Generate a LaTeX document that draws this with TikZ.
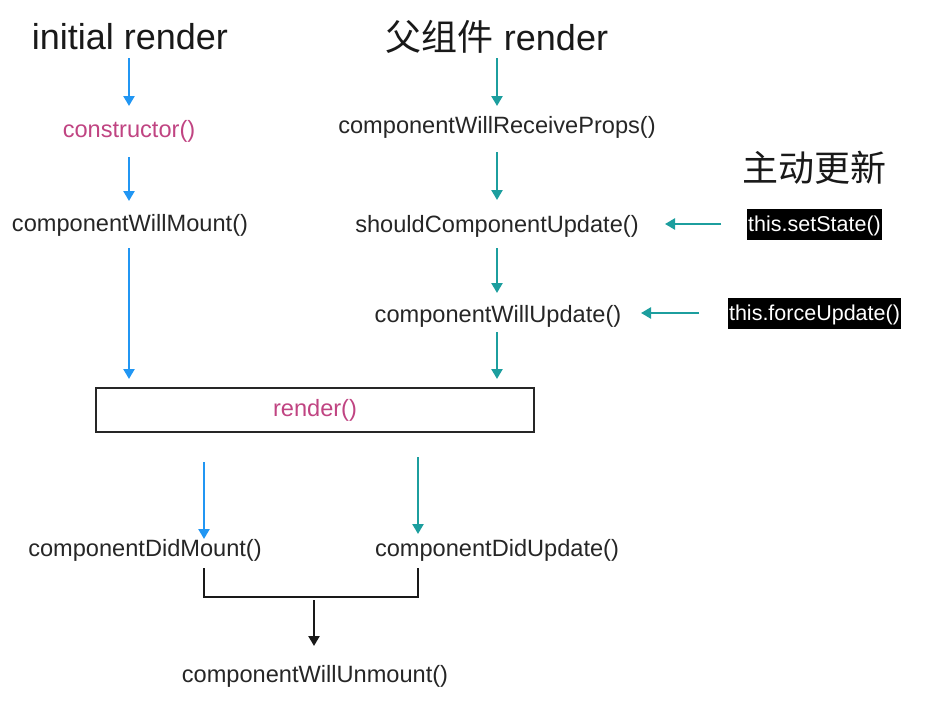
\documentclass[tikz,border=0pt]{standalone}
\usepackage{fontspec}
\setmainfont{Liberation Sans}
\newfontfamily\cjk{Noto Sans CJK SC}
\usetikzlibrary{arrows.meta}
\definecolor{cblue}{RGB}{33,150,243}
\definecolor{cteal}{RGB}{28,158,158}
\definecolor{cmag}{RGB}{192,68,130}
\tikzset{
  fn/.style={inner sep=0pt, font=\fontsize{23.6}{27}\selectfont, text=black!85},
  title/.style={inner sep=0pt, font=\fontsize{36}{42}\selectfont, text=black!90},
  tag/.style={fill=black, text=white, inner xsep=1.5pt, inner ysep=0pt, text height=18pt, text depth=4pt, minimum height=31pt, font=\fontsize{21.5}{24}\selectfont},
  arrblue/.style={draw=cblue, line width=2.4pt, -{Triangle[width=11pt,length=10pt]}},
  arrteal/.style={draw=cteal, line width=2.4pt, -{Triangle[width=11pt,length=10pt]}},
  arrblack/.style={draw=black!90, line width=2.4pt, -{Triangle[width=11pt,length=10pt]}},
}
\begin{document}
\begin{tikzpicture}[x=1pt,y=-1pt]
\useasboundingbox (0,0) rectangle (938,704);
% titles
\node[title] (ir) at (130,37) {initial render};
\node[title] (pr) at (497,37) {{\cjk 父组件} render};
\node[title] (zd) at (814,168) {\cjk 主动更新};
% left column
\node[fn, text=cmag] (ctor) at (129,131) {constructor()};
\node[fn] (cwm) at (130,225) {componentWillMount()};
% right column
\node[fn] (cwrp) at (497,127) {componentWillReceiveProps()};
\node[fn] (scu) at (497,226) {shouldComponentUpdate()};
\node[fn] (cwu) at (498,316) {componentWillUpdate()};
% tags
\node[tag] (ss) at (814.5,224) {this.setState()};
\node[tag] (fu) at (814.5,313) {this.forceUpdate()};
% render box
\node[draw=black!85, line width=2.6pt, minimum width=438pt, minimum height=44pt, inner sep=0pt, font=\fontsize{23.6}{27}\selectfont, text=cmag] (rd) at (315,410) {render()};
% bottom
\node[fn] (cdm) at (145,550) {componentDidMount()};
\node[fn] (cdu) at (497,550) {componentDidUpdate()};
\node[fn] (cwun) at (315,676) {componentWillUnmount()};
% coordinates
\coordinate (a1s) at (129,58); \coordinate (a1e) at (129,106);
\coordinate (a2s) at (129,157); \coordinate (a2e) at (129,201);
\coordinate (a3s) at (129,248); \coordinate (a3e) at (129,379);
\coordinate (b1s) at (497,58); \coordinate (b1e) at (497,106);
\coordinate (b2s) at (497,152); \coordinate (b2e) at (497,200);
\coordinate (b3s) at (497,248); \coordinate (b3e) at (497,293);
\coordinate (b4s) at (497,332); \coordinate (b4e) at (497,379);
\coordinate (s1) at (721,224); \coordinate (s2) at (665,224);
\coordinate (f1) at (699,313); \coordinate (f2) at (641,313);
\coordinate (d1s) at (204,462); \coordinate (d1e) at (204,539);
\coordinate (d2s) at (418,457); \coordinate (d2e) at (418,534);
\coordinate (k1) at (204,568); \coordinate (k2) at (204,597);
\coordinate (k3) at (418,597); \coordinate (k4) at (418,568);
\coordinate (u1) at (314,600); \coordinate (u2) at (314,646);
% arrows
\draw[arrblue] (a1s) -- (a1e);
\draw[arrblue] (a2s) -- (a2e);
\draw[arrblue] (a3s) -- (a3e);
\draw[arrteal] (b1s) -- (b1e);
\draw[arrteal] (b2s) -- (b2e);
\draw[arrteal] (b3s) -- (b3e);
\draw[arrteal] (b4s) -- (b4e);
\draw[arrteal] (s1) -- (s2);
\draw[arrteal] (f1) -- (f2);
\draw[arrblue] (d1s) -- (d1e);
\draw[arrteal] (d2s) -- (d2e);
\draw[black!90, line width=2.6pt] (k1) -- (k2) -- (k3) -- (k4);
\draw[arrblack] (u1) -- (u2);
\end{tikzpicture}
\end{document}
